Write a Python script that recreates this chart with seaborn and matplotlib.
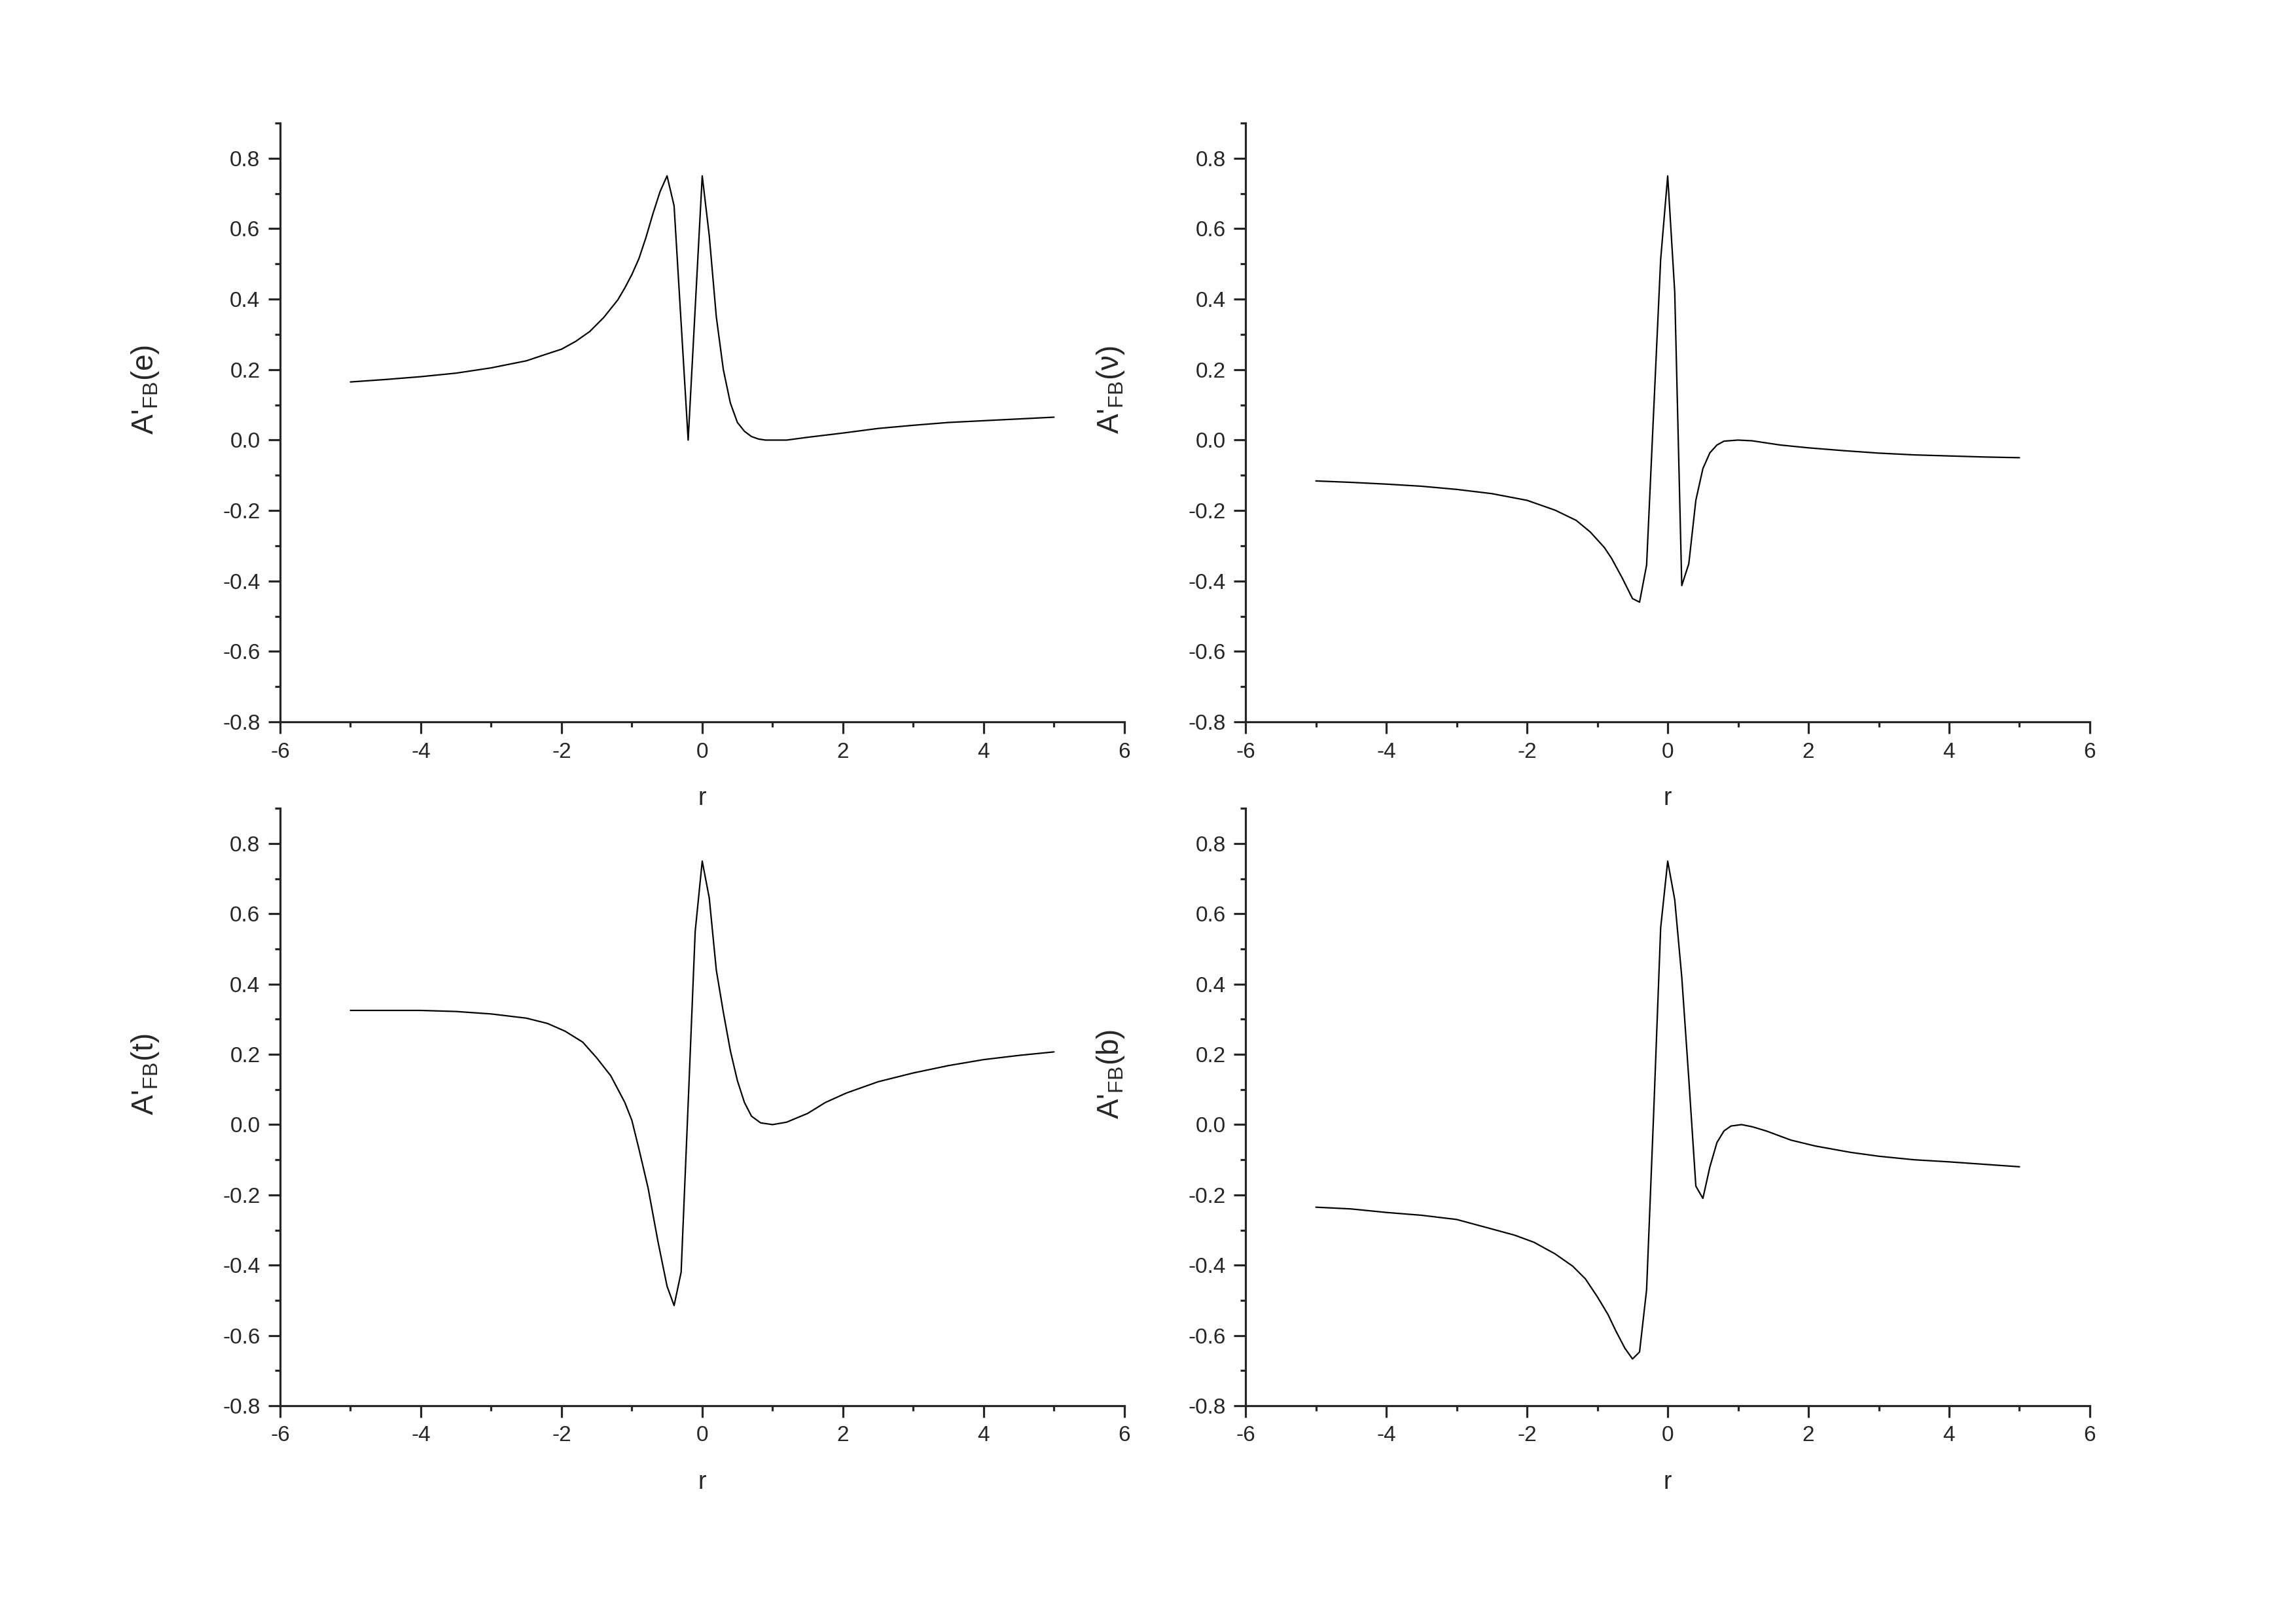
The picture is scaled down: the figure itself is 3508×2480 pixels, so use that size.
import numpy as np
import pandas as pd
import seaborn as sns
import matplotlib.pyplot as plt
from matplotlib.ticker import MultipleLocator, AutoMinorLocator, FuncFormatter

# Data
r_e = [-5, -4.5, -4, -3.5, -3, -2.5, -2.2, -2, -1.8, -1.6, -1.4, -1.2, -1.1, -1.0, -0.9, -0.8, -0.7,
       -0.6, -0.5, -0.4, -0.2, 0, 0.1, 0.2, 0.3, 0.4, 0.5, 0.6, 0.7, 0.8, 0.9, 1.0, 1.2, 1.5, 2.0,
       2.5, 3.0, 3.5, 4.0, 4.5, 5.0]
afb_e = [0.165, 0.172, 0.18, 0.19, 0.205, 0.225, 0.245, 0.258, 0.28, 0.308, 0.348, 0.398, 0.432,
         0.47, 0.515, 0.575, 0.643, 0.705, 0.75, 0.665, 0.0, 0.75, 0.58, 0.35, 0.20, 0.105, 0.05,
         0.025, 0.01, 0.003, 0.0, 0.0, 0.0, 0.008, 0.02, 0.033, 0.042, 0.05, 0.055, 0.06, 0.065]

r_nu = [-5, -4.5, -4, -3.5, -3, -2.5, -2, -1.6, -1.3, -1.1, -0.9, -0.8, -0.65, -0.5, -0.4, -0.3,
        -0.2, -0.1, 0, 0.1, 0.2, 0.3, 0.4, 0.5, 0.6, 0.7, 0.8, 1.0, 1.2, 1.4, 1.6, 2.0, 2.5,
        3.0, 3.5, 4.0, 4.5, 5.0]
afb_nu = [-0.116, -0.12, -0.125, -0.131, -0.14, -0.152, -0.171, -0.199, -0.228, -0.261, -0.305,
          -0.335, -0.39, -0.45, -0.46, -0.355, 0.08, 0.513, 0.75, 0.42, -0.413, -0.351, -0.171,
          -0.081, -0.036, -0.014, -0.003, 0.0, -0.002, -0.008, -0.014, -0.022, -0.03, -0.037,
          -0.042, -0.045, -0.048, -0.05]

r_t = [-5, -4.5, -4, -3.5, -3, -2.5, -2.2, -1.95, -1.7, -1.5, -1.3, -1.1, -1.0, -0.9, -0.77, -0.63,
       -0.5, -0.4, -0.3, -0.2, -0.1, 0, 0.1, 0.2, 0.3, 0.4, 0.5, 0.6, 0.7, 0.83, 1.0, 1.2, 1.5,
       1.75, 2.05, 2.5, 3.0, 3.5, 4.0, 4.5, 5.0]
afb_t = [0.325, 0.325, 0.325, 0.322, 0.315, 0.303, 0.288, 0.266, 0.235, 0.19, 0.139, 0.063, 0.012,
         -0.069, -0.18, -0.332, -0.46, -0.515, -0.42, 0.06, 0.55, 0.75, 0.645, 0.44, 0.32, 0.21,
         0.125, 0.063, 0.024, 0.005, 0.0, 0.007, 0.032, 0.063, 0.09, 0.122, 0.147, 0.168, 0.185,
         0.197, 0.207]

r_b = [-5, -4.5, -4, -3.5, -3, -2.5, -2.17, -1.9, -1.6, -1.35, -1.17, -1.0, -0.85, -0.74, -0.61,
       -0.5, -0.4, -0.3, -0.2, -0.1, 0, 0.1, 0.2, 0.3, 0.4, 0.5, 0.6, 0.7, 0.8, 0.9, 1.05, 1.2,
       1.4, 1.75, 2.1, 2.6, 3.0, 3.5, 4.0, 4.5, 5.0]
afb_b = [-0.235, -0.24, -0.25, -0.258, -0.27, -0.297, -0.315, -0.335, -0.368, -0.403, -0.439, -0.49,
         -0.54, -0.586, -0.636, -0.667, -0.647, -0.47, 0.03, 0.56, 0.75, 0.64, 0.42, 0.13, -0.175,
         -0.21, -0.12, -0.051, -0.018, -0.004, 0.0, -0.006, -0.018, -0.044, -0.061, -0.079, -0.09,
         -0.1, -0.106, -0.113, -0.12]

panels = [
    (r_e, afb_e, "e"),
    (r_nu, afb_nu, "\u03bd"),
    (r_t, afb_t, "t"),
    (r_b, afb_b, "b"),
]

sns.set_style("ticks")
plt.rcParams['font.family'] = ['Liberation Sans', 'DejaVu Sans']
plt.rcParams['mathtext.default'] = 'regular'
plt.rcParams['axes.unicode_minus'] = False


def fmt_y(v, pos):
    s = '%.1f' % v
    return '0.0' if s == '-0.0' else s


fig = plt.figure(figsize=(35.08, 24.8), dpi=100)

# axes boxes: [left, bottom, width, height]
boxes = [
    [0.1220, 0.5552, 0.3677, 0.369],
    [0.5425, 0.5552, 0.3677, 0.369],
    [0.1220, 0.1339, 0.3677, 0.368],
    [0.5425, 0.1339, 0.3677, 0.368],
]

for box, (r, a, name) in zip(boxes, panels):
    ax = fig.add_axes(box)
    df = pd.DataFrame({'r': r, 'A': a})
    sns.lineplot(data=df, x='r', y='A', ax=ax, color='black', linewidth=1.6,
                 estimator=None, sort=False)
    ax.set_xlim(-6, 6)
    ax.set_ylim(-0.8, 0.9)
    ax.xaxis.set_major_locator(MultipleLocator(2))
    ax.xaxis.set_minor_locator(AutoMinorLocator(2))
    ax.set_yticks(np.arange(-0.8, 0.81, 0.2))
    ax.yaxis.set_minor_locator(AutoMinorLocator(2))
    ax.xaxis.set_major_formatter(FuncFormatter(lambda v, p: '%d' % round(v)))
    ax.yaxis.set_major_formatter(FuncFormatter(fmt_y))
    sns.despine(ax=ax)
    for s in ['left', 'bottom']:
        ax.spines[s].set_linewidth(2.3)
    ax.tick_params(which='major', direction='out', length=13, width=2.3, labelsize=24, pad=9)
    ax.tick_params(which='minor', direction='out', length=6, width=2.3)
    ax.set_xlabel('r', fontsize=27)
    ax.xaxis.label.set_va('center')
    ax.xaxis.set_label_coords(0.5, -0.128)
    ax.set_ylabel("A'$_{FB}$(" + name + ")", fontsize=33)
    ax.yaxis.label.set_va('center')
    ax.yaxis.set_label_coords(-0.16, 0.555)

fig.savefig('out.png', dpi=100, facecolor='white')
